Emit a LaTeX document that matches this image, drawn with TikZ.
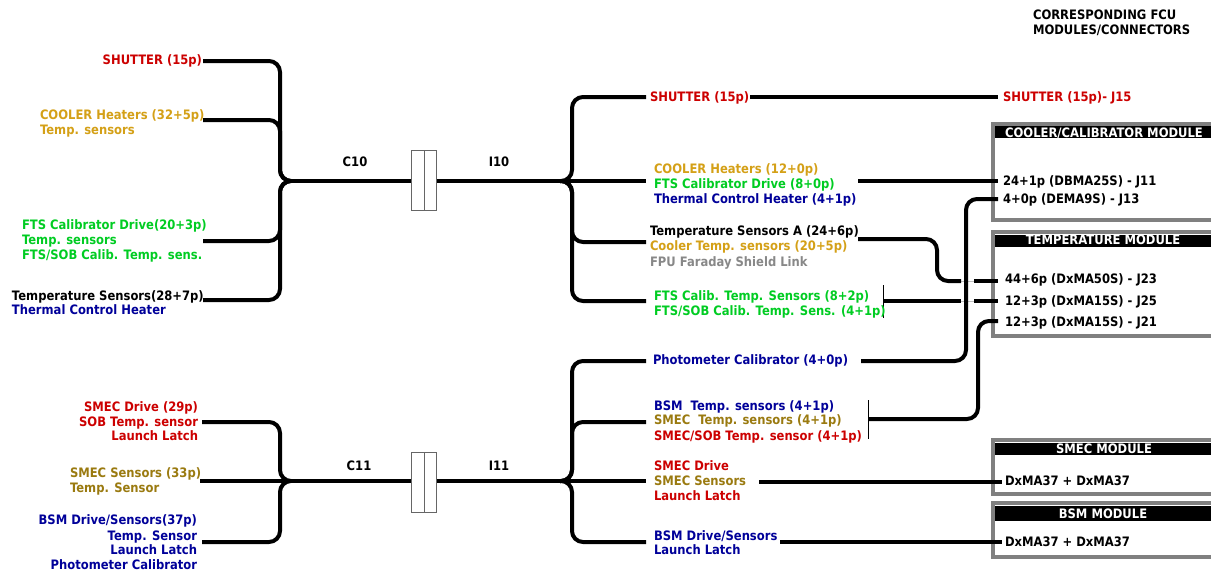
\documentclass[tikz,border=0pt]{standalone}
\usepackage{fontspec}
\setmainfont{DejaVu Sans}[BoldFeatures={FakeStretch=0.89}]
\definecolor{cred}{HTML}{CC0000}
\definecolor{cgold}{HTML}{D4A017}
\definecolor{cgreen}{HTML}{00CC22}
\definecolor{cnavy}{HTML}{000099}
\definecolor{colive}{HTML}{9A7A10}
\definecolor{cgray}{HTML}{888888}
\definecolor{cframe}{HTML}{808080}
\tikzset{
  x=1pt,y=-1pt,
  lab/.style={inner sep=0pt,outer sep=0pt,font=\fontsize{13}{15}\selectfont\bfseries},
  lw/.style={lab,anchor=base west},
  le/.style={lab,anchor=base east},
  lc/.style={lab,anchor=base},
  wire/.style={line width=4pt,rounded corners=11pt,black},
  thinlink/.style={line width=0.8pt,black!25},
  tick/.style={line width=0.9pt,black},
  frame/.style={line width=4pt,draw=cframe},
  conn/.style={draw=black!60,line width=0.9pt,fill=white,minimum width=12.5pt,minimum height=60pt,inner sep=0pt},
}
\begin{document}
\begin{tikzpicture}
\useasboundingbox (0,0) rectangle (1211,573);
% module frames
\draw[frame] (1213,124) -- (993,124) -- (993,220) -- (1213,220);
\draw[frame] (1213,232) -- (993,232) -- (993,336) -- (1213,336);
\draw[frame] (1213,440) -- (993,440) -- (993,494) -- (1213,494);
\draw[frame] (1213,503) -- (993,503) -- (993,557) -- (1213,557);
\fill[black] (995,126) rectangle (1211,138);
\fill[black] (995,235) rectangle (1211,247);
\fill[black] (995,443) rectangle (1211,455);
\fill[black] (995,506) rectangle (1211,521);
% coordinates
\coordinate (a1) at (203,61); \coordinate (a2) at (203,120);
\coordinate (a3) at (203,241); \coordinate (a4) at (203,300);
\coordinate (ctr) at (280,181); \coordinate (ch) at (291,181);
\coordinate (irh) at (560,181); \coordinate (itr) at (572,181);
\coordinate (b1) at (646,97); \coordinate (b2) at (646,181);
\coordinate (b3) at (646,242); \coordinate (b4) at (646,301);
\coordinate (d1) at (202,422); \coordinate (d2) at (200,481);
\coordinate (d3) at (202,542);
\coordinate (dtr) at (280,481); \coordinate (dh) at (291,481);
\coordinate (jrh) at (560,481); \coordinate (jtr) at (572,481);
\coordinate (e1) at (646,361); \coordinate (e2) at (646,422);
\coordinate (e3) at (646,481); \coordinate (e4) at (646,542);
\coordinate (f1a) at (750,97); \coordinate (f1b) at (998,97);
\coordinate (f2a) at (858,181); \coordinate (f2b) at (998,181);
\coordinate (f3a) at (858,239); \coordinate (f3c1) at (937,239);
\coordinate (f3c2) at (937,281); \coordinate (f3m) at (961,281);
\coordinate (f3n) at (974,281); \coordinate (f3b) at (998,281);
\coordinate (f4a) at (884,301); \coordinate (f4m) at (961,301);
\coordinate (f4n) at (974,301); \coordinate (f4b) at (998,301);
\coordinate (g1a) at (861,361); \coordinate (g1c) at (966,361);
\coordinate (g1d) at (966,199); \coordinate (g1b) at (998,199);
\coordinate (g2a) at (868,419); \coordinate (g2c) at (978,419);
\coordinate (g2d) at (978,321); \coordinate (g2b) at (998,321);
\coordinate (h1a) at (759,482); \coordinate (h1b) at (1002,482);
\coordinate (h2a) at (780,542); \coordinate (h2b) at (1002,542);
\coordinate (t1a) at (883,285); \coordinate (t1b) at (883,318);
\coordinate (t2a) at (868.5,400); \coordinate (t2b) at (868.5,439);
% connector blocks
\node[conn,anchor=north west] (k1) at (411,150) {};
\node[conn,anchor=north west] (k2) at (423.5,150) {};
\node[conn,anchor=north west] (k3) at (411,452) {};
\node[conn,anchor=north west] (k4) at (423.5,452) {};
% wires: C10 / I10
\draw[wire] (a1) -| (ctr) -- (ch);
\draw[wire] (a2) -| (ctr) -- (ch);
\draw[wire] (a3) -| (ctr) -- (ch);
\draw[wire] (a4) -| (ctr) -- (ch);
\draw[wire] (ch) -- (k1.west |- ch);
\draw[wire] (k2.east |- irh) -- (irh);
\draw[wire] (irh) -- (itr) |- (b1);
\draw[wire] (irh) -- (b2);
\draw[wire] (irh) -- (itr) |- (b3);
\draw[wire] (irh) -- (itr) |- (b4);
% wires: C11 / I11
\draw[wire] (d1) -| (dtr) -- (dh);
\draw[wire] (d2) -- (dh);
\draw[wire] (d3) -| (dtr) -- (dh);
\draw[wire] (dh) -- (k3.west |- dh);
\draw[wire] (k4.east |- jrh) -- (jrh);
\draw[wire] (jrh) -- (jtr) |- (e1);
\draw[wire] (jrh) -- (jtr) |- (e2);
\draw[wire] (jrh) -- (e3);
\draw[wire] (jrh) -- (jtr) |- (e4);
% outputs
\draw[wire] (f1a) -- (f1b);
\draw[wire] (f2a) -- (f2b);
\draw[thinlink] (f3m) -- (f3n); \draw[thinlink] (f4m) -- (f4n);
\draw[wire] (f3a) -- (f3c1) -- (f3c2) -- (f3m);
\draw[wire] (f3n) -- (f3b);
\draw[wire] (f4a) -- (f4m);
\draw[wire] (f4n) -- (f4b);
\draw[wire] (g1a) -- (g1c) -- (g1d) -- (g1b);
\draw[wire] (g2a) -- (g2c) -- (g2d) -- (g2b);
\draw[wire] (h1a) -- (h1b);
\draw[wire] (h2a) -- (h2b);
\draw[tick] (t1a) -- (t1b);
\draw[tick] (t2a) -- (t2b);
% left labels
\node[le,text=cred] (l1) at (202,64) {SHUTTER (15p)};
\node[lw,text=cgold] (l2) at (40,119.5) {COOLER Heaters (32+5p)};
\node[lw,text=cgold] (l3) at (40,134) {Temp. sensors};
\node[lw,text=cgreen] (l4) at (22,229) {FTS Calibrator Drive(20+3p)};
\node[lw,text=cgreen] (l5) at (22,244) {Temp. sensors};
\node[lw,text=cgreen] (l6) at (22,259) {FTS/SOB Calib. Temp. sens.};
\node[lw,text=black] (l7) at (12,300.5) {Temperature Sensors(28+7p)};
\node[lw,text=cnavy] (l8) at (12,314) {Thermal Control Heater};
\node[le,text=cred] (l9) at (198,411) {SMEC Drive (29p)};
\node[le,text=cred] (l10) at (198,426) {SOB Temp. sensor};
\node[le,text=cred] (l11) at (198,440) {Launch Latch};
\node[lw,text=colive] (l12) at (70,477) {SMEC Sensors (33p)};
\node[lw,text=colive] (l13) at (70,492) {Temp. Sensor};
\node[le,text=cnavy] (l14) at (197,524) {BSM Drive/Sensors(37p)};
\node[le,text=cnavy] (l15) at (197,540) {Temp. Sensor};
\node[le,text=cnavy] (l16) at (197,554) {Launch Latch};
\node[le,text=cnavy] (l17) at (197,569) {Photometer Calibrator};
% harness labels
\node[lc] (c10) at (355,166) {C10};
\node[lc] (i10) at (499,166) {I10};
\node[lc] (c11) at (359,470) {C11};
\node[lc] (i11) at (499,470) {I11};
% middle labels
\node[lw,text=cred] (m1) at (650,101) {SHUTTER (15p)};
\node[lw,text=cgold] (m2) at (654,173) {COOLER Heaters (12+0p)};
\node[lw,text=cgreen] (m3) at (654,188) {FTS Calibrator Drive (8+0p)};
\node[lw,text=cnavy] (m4) at (654,203) {Thermal Control Heater (4+1p)};
\node[lw,text=black] (m5) at (650,235) {Temperature Sensors A (24+6p)};
\node[lw,text=cgold] (m6) at (650,250) {Cooler Temp. sensors (20+5p)};
\node[lw,text=cgray] (m7) at (650,266) {FPU Faraday Shield Link};
\node[lw,text=cgreen] (m8) at (654,300) {FTS Calib. Temp. Sensors (8+2p)};
\node[lw,text=cgreen] (m9) at (654,315) {FTS/SOB Calib. Temp. Sens. (4+1p)};
\node[lw,text=cnavy] (m10) at (653,364) {Photometer Calibrator (4+0p)};
\node[lw,text=cnavy] (m11) at (654,410) {BSM\ \ Temp. sensors (4+1p)};
\node[lw,text=colive] (m12) at (654,424) {SMEC\ \ Temp. sensors (4+1p)};
\node[lw,text=cred] (m13) at (654,440) {SMEC/SOB Temp. sensor (4+1p)};
\node[lw,text=cred] (m14) at (654,470) {SMEC Drive};
\node[lw,text=colive] (m15) at (654,485) {SMEC Sensors};
\node[lw,text=cred] (m16) at (654,500) {Launch Latch};
\node[lw,text=cnavy] (m17) at (654,540) {BSM Drive/Sensors};
\node[lw,text=cnavy] (m18) at (654,554) {Launch Latch};
% right labels
\node[lw] (r1) at (1033,19) {CORRESPONDING FCU};
\node[lw] (r2) at (1033,34) {MODULES/CONNECTORS};
\node[lw,text=cred] (r3) at (1003,101) {SHUTTER (15p)- J15};
\node[lc,text=white] (r4) at (1104,137) {COOLER/CALIBRATOR MODULE};
\node[lw] (r5) at (1003,185) {24+1p (DBMA25S) - J11};
\node[lw] (r6) at (1003,203) {4+0p (DEMA9S) - J13};
\node[lc,text=white] (r7) at (1103,244) {TEMPERATURE MODULE};
\node[lw] (r8) at (1005,283) {44+6p (DxMA50S) - J23};
\node[lw] (r9) at (1005,305) {12+3p (DxMA15S) - J25};
\node[lw] (r10) at (1005,326) {12+3p (DxMA15S) - J21};
\node[lc,text=white] (r11) at (1104,453) {SMEC MODULE};
\node[lw] (r12) at (1005,485) {DxMA37 + DxMA37};
\node[lc,text=white] (r13) at (1103,518) {BSM MODULE};
\node[lw] (r14) at (1005,546) {DxMA37 + DxMA37};
\end{tikzpicture}
\end{document}
